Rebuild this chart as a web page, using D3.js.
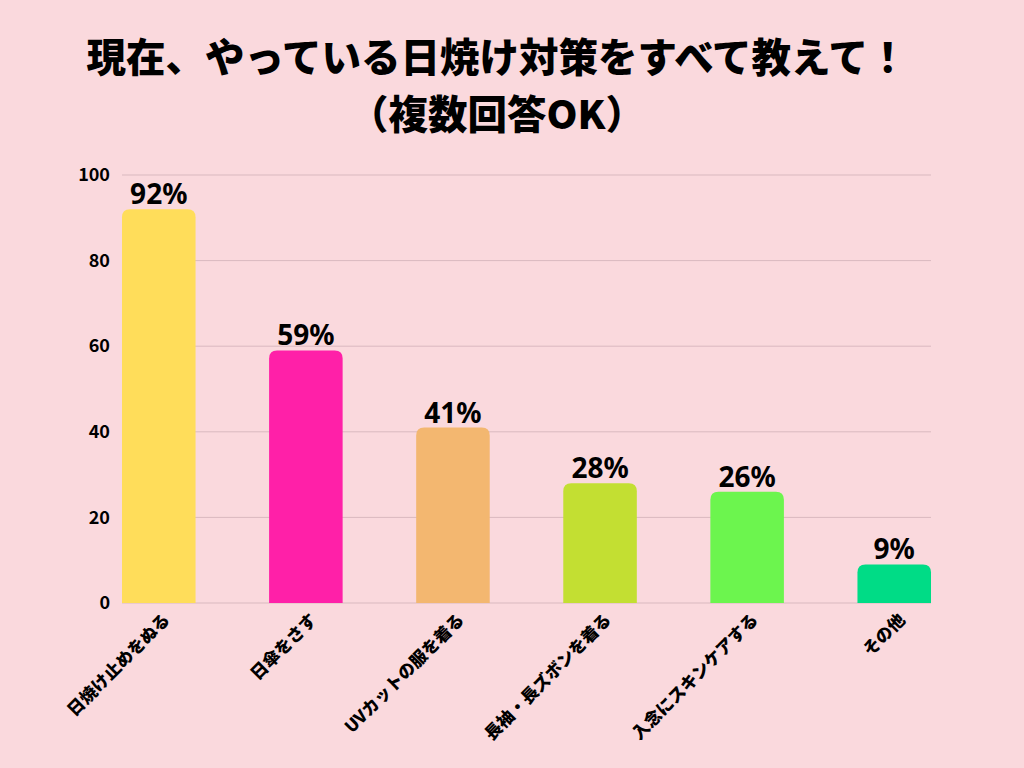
<!DOCTYPE html>
<html>
<head>
<meta charset="utf-8">
<script src="https://cdn.jsdelivr.net/npm/d3@7"></script>
<style>
  body { margin: 0; background: #fad9dd; }
  text { font-family: 'Noto Sans CJK JP', 'Noto Sans', sans-serif; }
</style>
</head>
<body>
<div id="chart"></div>
<script>
const categories = ['日焼け止めをぬる', '日傘をさす', 'UVカットの服を着る', '長袖・長ズボンを着る', '入念にスキンケアする', 'その他']
const values = [92, 59, 41, 28, 26, 9]
const colors = ['#ffdd5a', '#ff20a8', '#f3b770', '#c3df32', '#6cf54e', '#00dc86']
const yTicks = [0, 20, 40, 60, 80, 100]
const titleLines = ['現在、やっている日焼け対策をすべて教えて！', '（複数回答OK）']

const W = 1024
const H = 768
const margin = { top: 175, left: 122, right: 93, bottom: 165 }
const width = W - margin.left - margin.right
const height = H - margin.top - margin.bottom

const root = d3.select('#chart')
  .append('svg')
  .attr('width', W)
  .attr('height', H)

root.append('rect').attr('width', W).attr('height', H).attr('fill', '#fad9dd')

root.selectAll('.title')
  .data(titleLines)
  .enter()
  .append('text')
  .attr('class', 'title')
  .attr('x', 497)
  .attr('y', (d, i) => 72 + i * 57)
  .attr('text-anchor', 'middle')
  .style('font-size', '39.5px')
  .attr('font-weight', 900)
  .attr('fill', '#000')
  .text(d => d)

const svg = root.append('g')
  .attr('transform', 'translate(' + margin.left + ',' + margin.top + ')')

const x = d3.scaleBand().domain(categories).range([0, width]).paddingInner(0.5).paddingOuter(0)
const y = d3.scaleLinear().domain([0, 100]).range([height, 0])

// gridlines
svg.selectAll('.grid')
  .data(yTicks)
  .enter()
  .append('line')
  .attr('x1', 0)
  .attr('x2', width)
  .attr('y1', d => y(d))
  .attr('y2', d => y(d))
  .attr('stroke', '#d9b9bf')
  .attr('stroke-width', 1)

// y axis labels
const yAxis = d3.axisLeft(y).tickValues(yTicks).tickSize(0).tickPadding(12)
const yg = svg.append('g').call(yAxis)
yg.select('.domain').remove()
yg.attr('font-size', 18).attr('font-family', "'Noto Sans', 'Noto Sans CJK JP', sans-serif")
yg.selectAll('text')
  .attr('font-weight', 700)
  .attr('fill', '#000')

// bars with rounded top corners
const r = 8
svg.selectAll('.bar')
  .data(values)
  .enter()
  .append('path')
  .attr('class', 'bar')
  .attr('fill', (d, i) => colors[i])
  .attr('d', (d, i) => {
    const x0 = x(categories[i])
    const x1 = x0 + x.bandwidth()
    const y0 = y(d)
    const y1 = y(0)
    return `M${x0},${y1} L${x0},${y0 + r} Q${x0},${y0} ${x0 + r},${y0} L${x1 - r},${y0} Q${x1},${y0} ${x1},${y0 + r} L${x1},${y1} Z`
  })

// value labels
svg.selectAll('.val')
  .data(values)
  .enter()
  .append('text')
  .attr('x', (d, i) => x(categories[i]) + x.bandwidth() / 2)
  .attr('y', d => y(d) - 5)
  .attr('text-anchor', 'middle')
  .style('font-size', '28px')
  .attr('font-weight', 700)
  .attr('fill', '#000')
  .style('font-family', "'Noto Sans', 'Noto Sans CJK JP', sans-serif")
  .text(d => d + '%')

// x labels rotated
svg.selectAll('.xlab')
  .data(categories)
  .enter()
  .append('text')
  .attr('text-anchor', 'end')
  .style('font-size', '17px')
  .attr('font-weight', 900)
  .attr('fill', '#000')
  .attr('transform', d => `translate(${x(d) + x.bandwidth() / 2 + 12},${height + 18}) rotate(-45)`)
  .text(d => d)
</script>
</body>
</html>
